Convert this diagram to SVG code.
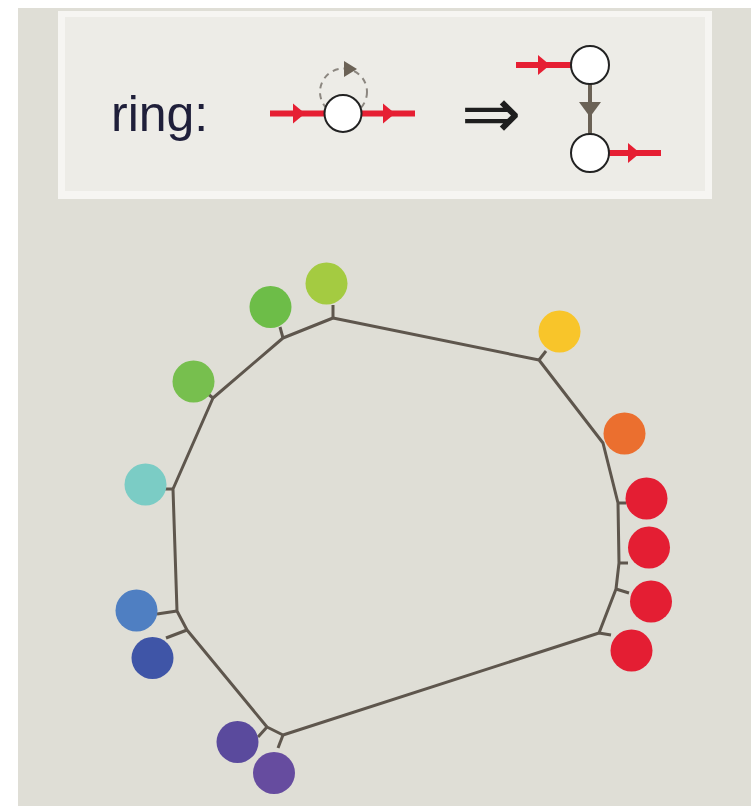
<svg xmlns="http://www.w3.org/2000/svg" width="751" height="806" viewBox="0 0 751 806">
<defs>
<style>
.ring{fill:none;stroke:#5e564d;stroke-width:3;stroke-linejoin:round;stroke-linecap:round}
.stub{stroke:#5e564d;stroke-width:3;stroke-linecap:butt}
.red{stroke:#e61f33;stroke-width:6;fill:none}
.redhead{fill:#e61f33}
.wnode{fill:#ffffff;stroke:#222222;stroke-width:2}
.gray{fill:#6b6256}
.leaf{stroke:none}
</style>
<polygon id="rh" points="-6,-10 6,0 -6,10" class="redhead"/>
</defs>
<rect x="0" y="0" width="751" height="806" fill="#ffffff"/>
<rect x="18" y="8" width="733" height="798" fill="#dfded6"/>

<g id="legend">
<rect x="58" y="11" width="654" height="188" fill="#f6f5f2"/>
<rect x="65" y="17" width="640" height="174" fill="#edece7"/>
<text x="111" y="131" font-family="Liberation Sans, Arial, sans-serif" font-size="50" fill="#1f1f3a">ring:</text>
<g id="legend-left">
<circle cx="343.5" cy="92" r="23.5" fill="none" stroke="#8c8780" stroke-width="2" stroke-dasharray="6 5"/>
<polygon points="344,61 357,69 344,77" class="gray"/>
<line x1="270" y1="113.5" x2="325" y2="113.5" class="red"/>
<line x1="361" y1="113.5" x2="415" y2="113.5" class="red"/>
<use href="#rh" x="299" y="113.5"/>
<use href="#rh" x="389" y="113.5"/>
<circle cx="343" cy="113.5" r="18.5" class="wnode"/>
</g>
<text x="461" y="138" font-family="DejaVu Sans, sans-serif" font-size="72" fill="#1e1e1e">⇒</text>
<g id="legend-right">
<line x1="590" y1="84" x2="590" y2="134" stroke="#6b6256" stroke-width="4"/>
<polygon points="579,102 601,102 590,117" class="gray"/>
<line x1="516" y1="65" x2="572" y2="65" class="red"/>
<use href="#rh" x="544" y="65"/>
<line x1="608" y1="153" x2="661" y2="153" class="red"/>
<use href="#rh" x="634" y="153"/>
<circle cx="590" cy="65" r="19" class="wnode"/>
<circle cx="590" cy="153" r="19" class="wnode"/>
</g>
</g>

<g id="connectors">
<polygon class="ring" points="333,318 539,360 603,443 618,503 619,563 616,589 599,633 283,735 267,727 187,630 177,611 173,489 213,398 283,338"/>
<line class="stub" x1="333" y1="318" x2="333" y2="305"/>
<line class="stub" x1="283" y1="338" x2="280" y2="327"/>
<line class="stub" x1="213" y1="398" x2="208" y2="394"/>
<line class="stub" x1="173" y1="489" x2="165" y2="489"/>
<line class="stub" x1="177" y1="611" x2="157" y2="614"/>
<line class="stub" x1="187" y1="630" x2="166" y2="638"/>
<line class="stub" x1="267" y1="727" x2="258" y2="737"/>
<line class="stub" x1="283" y1="735" x2="278" y2="748"/>
<line class="stub" x1="539" y1="360" x2="546" y2="351"/>
<line class="stub" x1="618" y1="503" x2="626" y2="503"/>
<line class="stub" x1="619" y1="563" x2="628" y2="563"/>
<line class="stub" x1="616" y1="589" x2="629" y2="593"/>
<line class="stub" x1="599" y1="633" x2="611" y2="635"/>
</g>

<g id="n-lime"><circle class="leaf" cx="326.5" cy="283.5" r="21" fill="#a4cb41"/></g>
<g id="n-green"><circle class="leaf" cx="270.5" cy="307" r="21" fill="#6dbd48"/></g>
<g id="n-green2"><circle class="leaf" cx="193.5" cy="381.5" r="21" fill="#77bf4e"/></g>
<g id="n-cyan"><circle class="leaf" cx="145.5" cy="484.5" r="21" fill="#7bccc5"/></g>
<g id="n-blue"><circle class="leaf" cx="136.5" cy="610.5" r="21" fill="#4f7fc2"/></g>
<g id="n-darkblue"><circle class="leaf" cx="152.5" cy="658" r="21" fill="#3f55a7"/></g>
<g id="n-purple1"><circle class="leaf" cx="237.5" cy="742" r="21" fill="#5a4a9d"/></g>
<g id="n-purple2"><circle class="leaf" cx="274" cy="773" r="21" fill="#664c9f"/></g>
<g id="n-yellow"><circle class="leaf" cx="559.5" cy="331.5" r="21" fill="#f8c52a"/></g>
<g id="n-orange"><circle class="leaf" cx="624.5" cy="433.5" r="21" fill="#eb6f2f"/></g>
<g id="n-red1"><circle class="leaf" cx="646.5" cy="498.5" r="21" fill="#e41e33"/></g>
<g id="n-red2"><circle class="leaf" cx="649" cy="547.5" r="21" fill="#e41e33"/></g>
<g id="n-red3"><circle class="leaf" cx="651" cy="601.5" r="21" fill="#e41e33"/></g>
<g id="n-red4"><circle class="leaf" cx="631.5" cy="650.5" r="21" fill="#e41e33"/></g>
</svg>
